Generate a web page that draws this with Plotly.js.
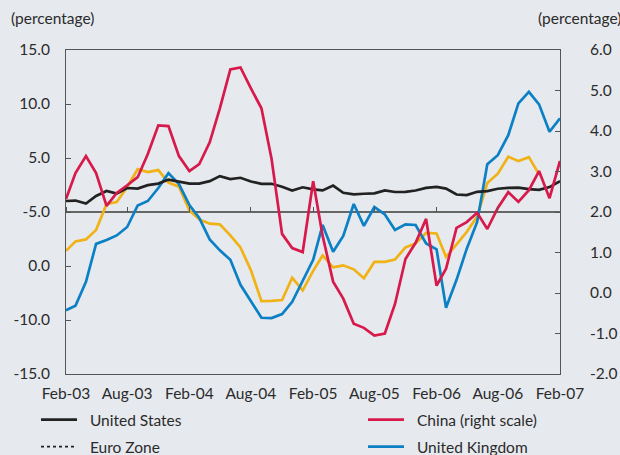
<!DOCTYPE html>
<html>
<head>
<meta charset="utf-8">
<script src="https://cdn.plot.ly/plotly-3.0.1.min.js"></script>
<style>
  html, body { margin: 0; padding: 0; background: #e6e9ee; }
  #chart { width: 620px; height: 455px; }
</style>
</head>
<body>
<div id="chart"></div>
<script>
// Months Feb-03 .. Feb-07
const months = [
  '2003-02','2003-03','2003-04','2003-05','2003-06','2003-07','2003-08','2003-09','2003-10','2003-11','2003-12',
  '2004-01','2004-02','2004-03','2004-04','2004-05','2004-06','2004-07','2004-08','2004-09','2004-10','2004-11','2004-12',
  '2005-01','2005-02','2005-03','2005-04','2005-05','2005-06','2005-07','2005-08','2005-09','2005-10','2005-11','2005-12',
  '2006-01','2006-02','2006-03','2006-04','2006-05','2006-06','2006-07','2006-08','2006-09','2006-10','2006-11','2006-12',
  '2007-01','2007-02'
];

// United States (left scale)
const unitedStates = [1.02,1.06,0.78,1.48,1.94,1.71,2.22,2.17,2.49,2.63,3.0,2.82,2.63,2.63,2.86,3.32,3.05,3.17,2.82,2.61,
  2.61,2.34,1.99,2.29,2.1,2.0,2.45,1.78,1.63,1.69,1.73,2.0,1.85,1.87,1.99,2.23,2.33,2.17,1.62,1.57,
  1.87,1.94,2.15,2.24,2.26,2.12,2.05,2.31,2.86];

// China (right scale)
const china = [2.32,2.96,3.38,2.96,2.15,2.47,2.66,2.86,3.43,4.14,4.12,3.38,3.01,3.18,3.72,4.56,5.52,5.57,5.05,4.56,
  3.31,1.46,1.11,1.01,2.76,1.41,0.28,-0.14,-0.76,-0.86,-1.05,-1.0,-0.27,0.84,1.24,1.83,0.18,0.6,1.61,1.75,
  1.98,1.58,2.10,2.49,2.25,2.54,3.01,2.34,3.26];

// United Kingdom (left scale)
const unitedKingdom = [-9.09,-8.68,-6.46,-2.95,-2.59,-2.17,-1.39,0.6,1.02,2.22,3.6,2.59,0.65,-0.55,-2.54,-3.55,-4.43,-6.74,-8.26,-9.79,
  -9.82,-9.45,-8.31,-6.37,-4.43,-1.2,-3.69,-2.22,0.74,-1.29,0.46,-0.23,-1.66,-1.15,-1.2,-2.91,-3.46,-8.86,-6.28,-3.42,
  -0.92,4.43,5.26,7.11,10.06,11.13,9.97,7.43,8.68];

// Unlabelled yellow series (left scale), ends Dec-06
const yellowSeries = [-3.6,-2.72,-2.54,-1.66,0.74,0.92,2.31,3.97,3.69,3.88,2.72,2.35,0.14,-0.69,-1.08,-1.15,-2.17,-3.28,-5.4,-8.26,
  -8.22,-8.15,-6.09,-7.25,-5.45,-4.02,-5.12,-4.94,-5.31,-6.14,-4.62,-4.62,-4.4,-3.28,-2.91,-1.94,-1.99,-4.16,-3.0,-1.85,
  -0.42,2.68,3.55,5.12,4.71,5.08,3.48,null,null];

// Euro Zone appears only in the legend of the reference (no values drawn)
const euroZone = [null];

// Axis tick labels as printed in the reference
const leftTickVals = [15,10,5,0,-5,-10,-15];
const leftTickText = ['15.0','10.0','5.0','-5.0','0.0','-10.0','-15.0'];
const rightTickVals = [6,5,4,3,2,1,0,-1,-2];
const rightTickText = ['6.0','5.0','4.0','3.0','2.0','1.0','0.0','-1.0','-2.0'];

const FONT = 'Lato, "Open Sans", sans-serif';
const FS = 15.5;
const TXT = '#2b2b2b';
const FRAME = '#555';
const GAP = '\u00a0\u00a0';

const traces = [
  {x: months, y: yellowSeries, type: 'scatter', mode: 'lines', name: 'Other',
   line: {color: '#f0b215', width: 2.7}, showlegend: false},
  {x: months, y: unitedKingdom, type: 'scatter', mode: 'lines', name: GAP + 'United Kingdom',
   line: {color: '#0c80c4', width: 2.7}, legend: 'legend4'},
  {x: months, y: unitedStates, type: 'scatter', mode: 'lines', name: GAP + 'United States',
   line: {color: '#222222', width: 2.7}, legend: 'legend'},
  {x: months.slice(0, 1), y: euroZone, type: 'scatter', mode: 'lines', name: GAP + 'Euro Zone',
   line: {color: '#222222', width: 1.6, dash: 'dot'}, legend: 'legend3'},
  {x: months, y: china, type: 'scatter', mode: 'lines', name: GAP + 'China (right scale)',
   xaxis: 'x2', yaxis: 'y2',
   line: {color: '#d7194b', width: 2.7}, legend: 'legend2'}
];

const xRange = ['2003-02-01', '2007-02-01'];

function legendAt(xpx, ypx) {
  return {
    orientation: 'h', xref: 'container', yref: 'container',
    x: xpx / 620, y: 1 - ypx / 455,
    xanchor: 'left', yanchor: 'middle',
    bgcolor: 'rgba(0,0,0,0)', borderwidth: 0,
    font: {family: FONT, size: FS, color: TXT},
    itemwidth: 36, itemclick: false
  };
}

const layout = {
  width: 620, height: 455,
  margin: {l: 66, r: 60, t: 50, b: 81},
  paper_bgcolor: '#e6e9ee',
  plot_bgcolor: '#e6e9ee',
  font: {family: FONT, size: FS, color: TXT},
  showlegend: true,
  legend: legendAt(36, 420),
  legend2: legendAt(363, 420),
  legend3: legendAt(36, 447),
  legend4: legendAt(363, 447),
  xaxis: {
    type: 'date', range: xRange,
    tick0: '2003-02-01', dtick: 'M6', tickformat: '%b-%y',
    ticks: '', showgrid: false, zeroline: false,
    showline: true, mirror: true, linecolor: FRAME, linewidth: 1,
    ticklabelstandoff: 5,
    tickfont: {family: FONT, size: FS, color: TXT}
  },
  xaxis2: {
    type: 'date', overlaying: 'x', matches: 'x',
    anchor: 'free', position: 0.5, side: 'top',
    tick0: '2003-02-01', dtick: 'M6',
    ticks: 'outside', ticklen: 5, tickcolor: FRAME, tickwidth: 1,
    showticklabels: false, showline: false, showgrid: false, zeroline: false
  },
  yaxis: {
    range: [-15, 15], tickvals: leftTickVals, ticktext: leftTickText,
    ticks: 'inside', ticklen: 5, tickcolor: FRAME,
    showgrid: false, showline: true, linecolor: FRAME, linewidth: 1,
    zeroline: true, zerolinecolor: '#666', zerolinewidth: 1.5,
    ticklabelstandoff: 12,
    tickfont: {family: FONT, size: FS, color: TXT}
  },
  yaxis2: {
    range: [-2, 6], tickvals: rightTickVals, ticktext: rightTickText,
    overlaying: 'y', side: 'right', anchor: 'x',
    ticks: 'inside', ticklen: 5, tickcolor: FRAME,
    showgrid: false, showline: true, linecolor: FRAME, linewidth: 1,
    zeroline: false,
    ticklabelstandoff: 26,
    tickfont: {family: FONT, size: FS, color: TXT}
  },
  annotations: [
    {text: '(percentage)', xref: 'paper', yref: 'paper', x: -0.115, y: 1.1,
     xanchor: 'left', yanchor: 'middle', showarrow: false,
     font: {family: FONT, size: FS, color: TXT}},
    {text: '(percentage)', xref: 'paper', yref: 'paper', x: 1.127, y: 1.1,
     xanchor: 'right', yanchor: 'middle', showarrow: false,
     font: {family: FONT, size: FS, color: TXT}}
  ]
};

Plotly.newPlot('chart', traces, layout, {staticPlot: true, displayModeBar: false});
</script>
</body>
</html>
